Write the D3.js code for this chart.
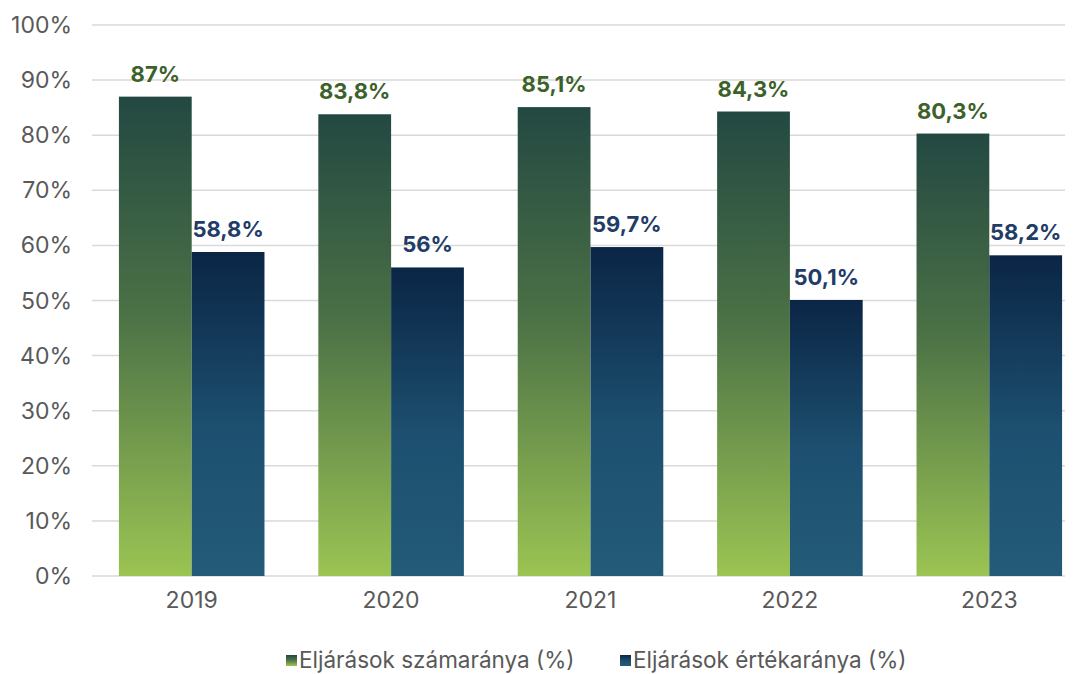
<!DOCTYPE html>
<meta charset="utf-8">
<script src="https://d3js.org/d3.v7.min.js"></script>
<style>
  body { margin: 0; background: #fff; }
  text { font-family: Inter, "Open Sans", sans-serif; }
</style>
<div id="chart"></div>
<script>
  var years = ["2019", "2020", "2021", "2022", "2023"];
  var szamarany = [87, 83.8, 85.1, 84.3, 80.3];
  var ertekarany = [58.8, 56, 59.7, 50.1, 58.2];
  var seriesNames = ["Eljárások számaránya (%)", "Eljárások értékaránya (%)"];
  var yTicks = [0, 10, 20, 30, 40, 50, 60, 70, 80, 90, 100];

  var W = 1076, H = 674;
  var svg = d3.select("#chart").append("svg")
      .attr("width", W).attr("height", H);

  var defs = svg.append("defs");
  function grad(id, stops) {
    var g = defs.append("linearGradient").attr("id", id)
        .attr("x1", 0).attr("y1", 0).attr("x2", 0).attr("y2", 1);
    stops.forEach(function(s) {
      g.append("stop").attr("offset", s[0]).attr("stop-color", s[1]);
    });
  }
  grad("gGreen", [[0, "#234842"], [0.45, "#4b7146"], [1, "#9bc453"]]);
  grad("gBlue", [[0, "#0b2545"], [0.55, "#1d5070"], [1, "#235b78"]]);

  var x0 = d3.scaleBand().domain(years).range([92, 1089]).paddingInner(0.27).paddingOuter(0.135);
  var x1 = d3.scaleBand().domain([0, 1]).range([0, x0.bandwidth()]);
  var y = d3.scaleLinear().domain([0, 100]).range([576, 25]);

  // grid
  svg.append("g").selectAll("line").data(yTicks).enter().append("line")
      .attr("x1", 92).attr("x2", 1065)
      .attr("y1", function(d) { return y(d); })
      .attr("y2", function(d) { return y(d); })
      .attr("stroke", "#d9d9d9").attr("stroke-width", 1.5);

  svg.append("g").selectAll("text").data(yTicks).enter().append("text")
      .attr("x", 72).attr("y", function(d) { return y(d); })
      .attr("dy", "0.35em").attr("text-anchor", "end")
      .attr("font-size", 23).attr("fill", "#595959")
      .text(function(d) { return d + "%"; });

  svg.append("g").selectAll("text").data(years).enter().append("text")
      .attr("x", function(d) { return x0(d) + x0.bandwidth() / 2; })
      .attr("y", 608).attr("text-anchor", "middle")
      .attr("font-size", 23).attr("fill", "#595959")
      .text(function(d) { return d; });

  var fmt = function(v) { return String(v).replace(".", ","); };
  var series = [
    { vals: szamarany, fill: "url(#gGreen)", lab: "#3c6229" },
    { vals: ertekarany, fill: "url(#gBlue)", lab: "#223c68" }
  ];

  series.forEach(function(s, si) {
    var g = svg.append("g");
    g.selectAll("rect").data(years).enter().append("rect")
        .attr("x", function(d) { return x0(d) + x1(si); })
        .attr("y", function(d, i) { return y(s.vals[i]); })
        .attr("width", x1.bandwidth())
        .attr("height", function(d, i) { return y(0) - y(s.vals[i]); })
        .attr("fill", s.fill);
    g.selectAll("text").data(years).enter().append("text")
        .attr("x", function(d) { return x0(d) + x1(si) + x1.bandwidth() / 2; })
        .attr("y", function(d, i) { return y(s.vals[i]) - 15; })
        .attr("text-anchor", "middle")
        .attr("font-size", 22).attr("font-weight", "bold").attr("fill", s.lab)
        .text(function(d, i) { return fmt(s.vals[i]) + "%"; });
  });

  // legend
  var legX = [286, 620];
  var legFill = ["url(#gGreen)", "url(#gBlue)"];
  seriesNames.forEach(function(n, i) {
    svg.append("rect").attr("x", legX[i]).attr("y", 655)
        .attr("width", 11).attr("height", 11).attr("fill", legFill[i]);
    svg.append("text").attr("x", legX[i] + 13).attr("y", 660)
        .attr("dy", "0.35em").attr("font-size", 22.5).attr("fill", "#595959")
        .text(n);
  });
</script>
